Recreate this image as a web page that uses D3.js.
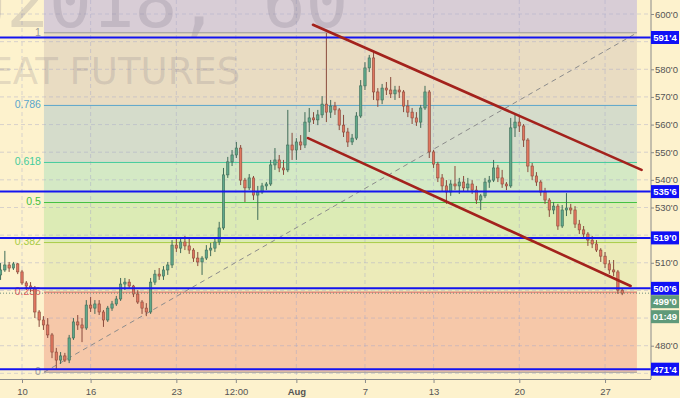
<!DOCTYPE html>
<html>
<head>
<meta charset="utf-8">
<script src="https://cdn.jsdelivr.net/npm/d3@7"></script>
<style>
  body { margin: 0; background: #fdf2cd; }
  svg { display: block; font-family: "Liberation Sans", Arial, sans-serif; }
</style>
</head>
<body>
<svg id="chart" width="680" height="398"></svg>
<script>
// hourly-ish bars, 4 per trading day: [open, high, low, close]
const candles = [
  [505.6,509.9,503.8,507.4],[507.4,514.3,506.7,509.2],[509.2,510.3,506.7,508.1],[508.1,510.3,507.4,509.6],
  [509.6,509.9,505.9,506.7],[506.7,507.4,502.0,502.7],[502.7,503.4,500.1,501.6],[501.6,503.0,499.4,500.9],
  [500.9,501.6,490.0,492.2],[492.2,492.9,486.8,489.3],[489.3,490.7,485.7,487.5],[487.5,490.0,482.8,483.9],
  [483.9,484.6,475.5,477.7],[477.7,479.2,471.2,474.8],[474.8,477.7,473.4,476.3],[476.3,477.4,474.1,474.8],
  [474.8,483.9,473.7,482.8],[482.8,490.0,482.1,488.6],[488.6,491.1,485.7,487.5],[487.5,490.0,481.3,486.4],
  [486.4,496.5,485.7,494.7],[494.7,497.6,492.2,493.6],[493.6,496.5,491.5,495.1],[495.1,496.5,491.1,492.2],
  [492.2,492.9,486.8,489.3],[489.3,494.4,488.6,493.6],[493.6,496.2,492.6,495.1],[495.1,498.0,494.4,496.9],
  [496.9,504.5,496.2,502.3],[502.3,504.5,500.1,503.0],[503.0,504.1,500.5,501.6],[501.6,502.0,497.6,498.7],
  [498.7,500.1,495.1,495.8],[495.8,496.5,491.5,493.6],[493.6,495.4,490.7,492.2],[492.2,504.5,491.5,503.0],
  [503.0,507.4,502.0,505.9],[505.9,508.1,503.8,505.2],[505.2,508.8,503.8,507.4],[507.4,510.3,505.6,509.2],
  [509.2,518.2,508.1,516.4],[516.4,519.3,513.9,515.3],[515.3,519.0,513.5,517.5],[517.5,519.7,514.6,516.1],
  [516.1,519.0,513.2,514.6],[514.6,515.3,510.3,511.7],[511.7,513.9,508.8,510.3],[510.3,512.4,505.6,511.7],
  [511.7,516.4,511.0,514.6],[514.6,517.2,512.4,515.3],[515.3,519.0,513.9,517.5],[517.5,524.8,516.4,522.6],
  [522.6,544.3,521.9,541.8],[541.8,548.3,540.7,546.5],[546.5,550.8,545.0,549.0],[549.0,553.7,547.9,551.5],
  [551.5,552.6,538.1,539.9],[539.9,540.7,532.0,537.1],[537.1,542.1,536.3,540.7],[540.7,541.4,532.7,534.5],
  [534.5,537.8,525.5,535.6],[535.6,538.9,534.9,537.8],[537.8,539.2,536.3,538.5],[538.5,547.2,537.8,545.4],
  [545.4,551.5,543.6,547.2],[547.2,549.0,542.8,544.3],[544.3,547.2,541.8,543.6],[543.6,565.3,542.8,552.6],
  [552.6,557.0,547.2,550.8],[550.8,555.1,547.2,553.7],[553.7,556.2,550.8,552.6],[552.6,564.5,551.5,560.9],
  [560.9,566.0,557.3,562.4],[562.4,564.5,560.2,561.7],[561.7,565.3,559.8,563.5],[563.5,570.3,562.4,567.4],
  [567.4,593.1,560.9,564.5],[564.5,568.9,562.4,566.7],[566.7,568.2,563.5,565.3],[565.3,566.0,558.0,559.8],
  [559.8,563.5,555.5,557.3],[557.3,558.8,551.9,553.7],[553.7,556.6,552.6,555.1],[555.1,564.5,554.4,563.1],
  [563.1,576.1,562.4,574.0],[574.0,582.6,572.5,580.5],[580.5,585.2,579.0,584.1],[584.1,586.3,568.9,571.8],
  [571.8,573.2,566.4,568.9],[568.9,574.7,567.4,573.2],[573.2,575.4,570.7,572.5],[572.5,577.2,569.6,571.1],
  [571.1,574.0,568.9,572.5],[572.5,574.0,569.6,571.8],[571.8,572.5,564.5,566.7],[566.7,568.9,562.7,564.5],
  [564.5,566.0,560.2,562.4],[562.4,564.5,559.5,560.9],[560.9,567.1,558.8,566.0],[566.0,574.0,565.3,571.8],
  [571.8,572.5,547.9,550.1],[550.1,550.8,544.3,545.7],[545.7,546.5,539.2,540.7],[540.7,542.1,535.6,537.8],
  [537.8,539.9,531.3,535.6],[535.6,539.9,534.2,538.5],[538.5,545.0,536.3,537.8],[537.8,540.7,534.9,539.2],
  [539.2,541.4,535.6,537.1],[537.1,540.7,535.6,538.5],[538.5,539.9,534.9,536.3],[536.3,537.8,531.3,532.7],
  [532.7,534.9,529.1,534.2],[534.2,540.7,533.4,539.2],[539.2,541.4,537.1,539.9],[539.9,547.2,539.2,544.3],
  [544.3,545.4,539.2,540.7],[540.7,543.6,537.1,538.5],[538.5,539.2,536.3,537.8],[537.8,562.4,537.1,558.8],
  [558.8,563.5,555.5,560.9],[560.9,563.5,557.3,559.5],[559.5,560.2,551.9,554.4],[554.4,555.1,542.8,545.0],
  [545.0,546.1,539.9,541.4],[541.4,542.8,537.8,539.2],[539.2,539.9,534.2,535.6],[535.6,537.1,531.3,532.7],
  [532.7,533.4,526.6,529.1],[529.1,532.0,527.6,530.5],[530.5,531.3,521.9,523.3],[523.3,530.9,522.6,529.1],
  [529.1,535.2,526.9,529.8],[529.8,531.3,527.6,529.1],[529.1,530.5,522.6,524.0],[524.0,525.5,520.4,521.9],
  [521.9,523.3,519.0,520.4],[520.4,521.1,516.1,518.2],[518.2,519.7,515.3,516.8],[516.8,518.2,513.9,514.6],
  [514.6,515.3,510.3,512.4],[512.4,513.9,508.1,509.6],[509.6,511.0,505.9,507.4],[507.4,511.0,505.2,506.7],
  [506.7,507.4,498.7,500.1],[500.1,500.9,498.3,499.0]
];
const candleStartDay = -1.25;   // trading days from Jul 10
const candleStepDay = 0.25;

const xTickDays = [0, 4, 9, 12.47, 16, 20, 24, 29, 34];
const xTickLabels = ["10", "16", "23", "12:00", "Aug", "7", "13", "20", "27"];
const priceTicks = [470, 480, 490, 500, 510, 520, 530, 540, 550, 560, 570, 580, 590, 600];

const fibLow = 470.4, fibHigh = 593.2;
const fibStartDay = 1.28, fibEndDay = 35.86;
const fibLevels = [0, 0.236, 0.382, 0.5, 0.618, 0.786, 1];
const fibLabels = ["0", "0.236", "0.382", "0.5", "0.618", "0.786", "1"];
const fibLineColors = ["#9a9a9a", "#e06060", "#a8cc48", "#44c040", "#44cc9c", "#5aa6cc", "#9a9a9a"];
const fibZoneColors = ["#f6c8a9", "#ecebb9", "#dcebb5", "#d4e9c5", "#d5dccb", "#e9dcc2", "#d8cdd6"];

const hLevels = [591.5, 535.75, 519.0, 500.75, 471.5];
const hLabels = ["591'4", "535'6", "519'0", "500'6", "471'4"];

const lastPrice = 499.0;
const lastLabel = "499'0";
const countdownLabel = "01:49";

const channelUpper = [[16.97, 596.1], [36.13, 543.6]];
const channelLower = [[16.68, 555.1], [35.49, 501.6]];

const svg = d3.select("#chart");
const W = 680, H = 398;
const plot = { left: 0, right: 651, top: 0, bottom: 379 };

const x = d3.scaleLinear().domain([-1.283, 36.68]).range([plot.left, plot.right]);
const y = d3.scaleLinear().domain([480, 600]).range([345.7, 14]);
const fibPrice = f => fibLow + (fibHigh - fibLow) * f;

svg.append("rect").attr("width", W).attr("height", H).attr("fill", "#fdf2cd");

// fib zones
const zoneX0 = x(fibStartDay), zoneX1 = x(fibEndDay);
const zoneTops = fibLevels.slice(1).map(fibPrice).concat([y.invert(0)]);
const zoneBots = fibLevels.map(fibPrice);
svg.append("g").selectAll("rect")
  .data(fibZoneColors)
  .join("rect")
  .attr("x", zoneX0)
  .attr("width", zoneX1 - zoneX0)
  .attr("y", (d, i) => y(zoneTops[i]))
  .attr("height", (d, i) => y(zoneBots[i]) - y(zoneTops[i]))
  .attr("fill", d => d);

// grid
const grid = svg.append("g").attr("stroke", "#a9a9c8").attr("stroke-opacity", 0.45)
  .attr("stroke-dasharray", "4,3");
grid.selectAll(".gx").data(xTickDays).join("line")
  .attr("x1", d => x(d)).attr("x2", d => x(d)).attr("y1", plot.top).attr("y2", plot.bottom);
grid.selectAll(".gy").data(priceTicks).join("line")
  .attr("x1", plot.left).attr("x2", plot.right).attr("y1", d => y(d)).attr("y2", d => y(d));

// watermark
svg.append("text").attr("x", -122).attr("y", 27)
  .attr("font-family", "DejaVu Sans Mono, monospace").attr("font-size", 71)
  .attr("fill", "#786e80").attr("fill-opacity", 0.22)
  .text("ZWU2018, 60");
svg.append("text").attr("x", -75).attr("y", 84)
  .attr("font-family", "DejaVu Sans, sans-serif").attr("font-size", 37)
  .attr("fill", "#786e80").attr("fill-opacity", 0.2)
  .text("WHEAT FUTURES");

// fib level lines and labels
svg.append("g").selectAll("line").data(fibLevels).join("line")
  .attr("x1", zoneX0).attr("x2", zoneX1)
  .attr("y1", d => y(fibPrice(d))).attr("y2", d => y(fibPrice(d)))
  .attr("stroke", (d, i) => fibLineColors[i]).attr("stroke-width", 1);
svg.append("g").selectAll("text").data(fibLevels).join("text")
  .attr("x", zoneX0 - 3).attr("y", d => y(fibPrice(d)))
  .attr("text-anchor", "end").attr("dominant-baseline", "middle")
  .attr("font-size", 10.5)
  .attr("fill", (d, i) => fibLineColors[i])
  .text((d, i) => fibLabels[i]);

// fib diagonal
svg.append("line")
  .attr("x1", x(fibStartDay)).attr("y1", y(fibLow))
  .attr("x2", x(fibEndDay)).attr("y2", y(fibHigh))
  .attr("stroke", "#8c8c8c").attr("stroke-width", 1).attr("stroke-dasharray", "5,4");

// candles
const bw = (x(candleStepDay) - x(0)) * 0.55;
const cg = svg.append("g");
const cx = (d, i) => x(candleStartDay + i * candleStepDay);
cg.selectAll(".wick").data(candles).join("line")
  .attr("class", "wick")
  .attr("x1", cx).attr("x2", cx)
  .attr("y1", d => y(d[1])).attr("y2", d => y(d[2]))
  .attr("stroke", d => d[3] >= d[0] ? "#3f6b58" : "#8a4a3c").attr("stroke-width", 1);
cg.selectAll(".body").data(candles).join("rect")
  .attr("class", "body")
  .attr("x", (d, i) => cx(d, i) - bw / 2)
  .attr("width", bw)
  .attr("y", d => y(Math.max(d[0], d[3])))
  .attr("height", d => Math.max(1, Math.abs(y(d[0]) - y(d[3]))))
  .attr("fill", d => d[3] >= d[0] ? "#5fa88a" : "#e0765f")
  .attr("stroke", d => d[3] >= d[0] ? "#3f6b58" : "#8a4a3c")
  .attr("stroke-width", 0.6);

// last price dotted line
svg.append("line")
  .attr("x1", plot.left).attr("x2", plot.right)
  .attr("y1", y(lastPrice)).attr("y2", y(lastPrice))
  .attr("stroke", "#6f8f7c").attr("stroke-width", 1).attr("stroke-dasharray", "1,2");

// blue horizontal levels
svg.append("g").selectAll("line").data(hLevels).join("line")
  .attr("x1", plot.left).attr("x2", plot.right)
  .attr("y1", d => y(d)).attr("y2", d => y(d))
  .attr("stroke", "#1414f0").attr("stroke-width", 2);

// channel
const line = d3.line().x(d => x(d[0])).y(d => y(d[1]));
[channelUpper, channelLower].forEach(c => {
  svg.append("path").attr("d", line(c))
    .attr("fill", "none").attr("stroke", "#a3221c").attr("stroke-width", 2.6)
    .attr("stroke-linecap", "round");
});

// axes
const xAxis = d3.axisBottom(x).tickValues(xTickDays)
  .tickFormat((d, i) => xTickLabels[i]).tickSize(4).tickSizeOuter(0);
const gx = svg.append("g").attr("transform", `translate(0,${plot.bottom})`).call(xAxis);
gx.select(".domain").attr("stroke", "#8a8a8a");
gx.selectAll(".tick line").attr("stroke", "#8a8a8a");
gx.selectAll(".tick text").attr("fill", "#555").attr("font-size", 9.5)
  .attr("font-family", "Liberation Sans, Arial, sans-serif").attr("dy", "0.9em")
  .attr("font-weight", (d, i) => xTickLabels[i] === "Aug" ? "bold" : "normal");

// price tag positions (centre y) so that hidden tick labels can be skipped
const tagYs = hLevels.map(p => y(p)).concat([y(lastPrice) + 8.5, y(lastPrice) + 23.5]);
const visibleTicks = priceTicks.filter(p => tagYs.every(t => Math.abs(y(p) - t) > 7));

svg.append("rect").attr("x", plot.right).attr("y", 0).attr("width", W - plot.right).attr("height", H)
  .attr("fill", "#fdf2cd");
const yAxis = d3.axisRight(y).tickValues(priceTicks).tickFormat(d => visibleTicks.includes(d) ? d + "'0" : "")
  .tickSize(3).tickSizeOuter(0);
const gy = svg.append("g").attr("transform", `translate(${plot.right},0)`).call(yAxis);
gy.select(".domain").attr("stroke", "#8a8a8a").attr("d", `M0,0V${plot.bottom}`);
gy.selectAll(".tick line").attr("stroke", "#8a8a8a");
gy.selectAll(".tick text").attr("fill", "#555").attr("font-size", 9.5)
  .attr("font-family", "Liberation Sans, Arial, sans-serif").attr("x", 4);
svg.append("line").attr("x1", plot.left).attr("x2", plot.right)
  .attr("y1", plot.bottom + 0.5).attr("y2", plot.bottom + 0.5).attr("stroke", "#8a8a8a");

// right side price tags
const tag = (yy, label, fill) => {
  svg.append("rect").attr("x", plot.right).attr("y", yy - 6.5)
    .attr("width", 28).attr("height", 13).attr("fill", fill);
  svg.append("text").attr("x", plot.right + 14).attr("y", yy)
    .attr("text-anchor", "middle").attr("dominant-baseline", "central")
    .attr("font-size", 9.5).attr("font-weight", "bold").attr("fill", "#fff")
    .text(label);
};
hLevels.forEach((p, i) => tag(tagYs[i], hLabels[i], "#1010f5"));
tag(tagYs[5], lastLabel, "#5f9a7a");
tag(tagYs[6], countdownLabel, "#5f9a7a");
</script>
</body>
</html>
